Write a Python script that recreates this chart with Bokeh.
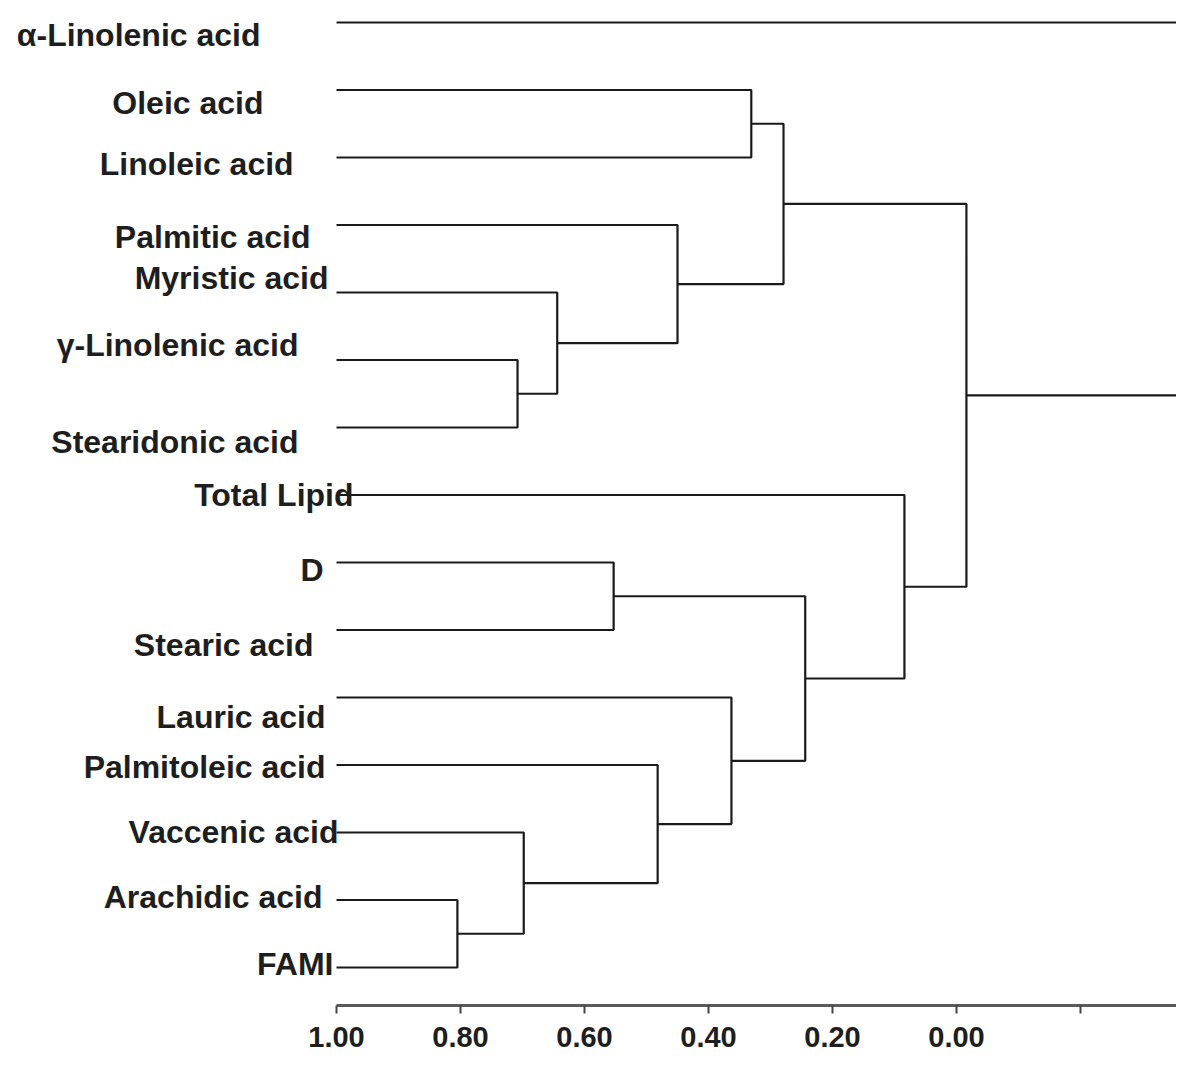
from bokeh.plotting import figure
from bokeh.models import Range1d, FixedTicker, ColumnDataSource, CustomJSTickFormatter
from bokeh.core.properties import value
from bokeh.embed import file_html
from bokeh.resources import INLINE

# ---------------- data ----------------
leaf_labels = [
    "α-Linolenic acid", "Oleic acid", "Linoleic  acid", "Palmitic acid",
    "Myristic acid", "γ-Linolenic acid", "Stearidonic acid", "Total Lipid",
    "D", "Stearic acid", "Lauric acid", "Palmitoleic acid", "Vaccenic acid",
    "Arachidic acid", "FAMI",
]
# linkage (scipy-style): cluster 15+k joins merge_a[k] and merge_b[k] at merge_h[k]
merge_a = [13, 5, 12, 4, 8, 11, 3, 10, 1, 23, 19, 7, 24, 0]
merge_b = [14, 6, 15, 16, 9, 17, 18, 20, 2, 21, 22, 25, 26, 27]
merge_h = [0.805, 0.708, 0.698, 0.644, 0.553, 0.482, 0.450, 0.363,
           0.331, 0.279, 0.244, 0.084, -0.016, -0.381]
tick_values = [1.0, 0.8, 0.6, 0.4, 0.2, 0.0, -0.2]
leaf_similarity = 1.0

# ---------------- layout / style ----------------
W, H = 1176, 1060
AXIS_PANEL = 55
FRAME_H = H - AXIS_PANEL
X_AT_ONE = 336          # canvas px where similarity 1.0 sits
PX_PER_UNIT = 620       # px per similarity unit
Y_TOP = 22              # canvas px of first leaf
Y_STEP = 67.5           # px between leaves

label_dx = [-76, -73, -34, -26, -8, -38, -38, 17, -13, -23, -11, -11, 2, -14, -3]
label_dy = [12, 12.5, 6, 11.5, -15, -15.5, 14, 0, 7, 14.5, 19, 1.5, -1, -3.5, -4]
FONT = "Liberation Sans"
LINE_COLOR = "#1a1a1a"
TEXT_COLOR = "#1e1e1e"

# ---------------- dendrogram geometry ----------------
n = len(leaf_labels)
node_x = [leaf_similarity] * n
node_y = list(range(n))
xs, ys = [], []
for a, b, h in zip(merge_a, merge_b, merge_h):
    xa, ya = node_x[a], node_y[a]
    xb, yb = node_x[b], node_y[b]
    xs.append([xa, h, h, xb])
    ys.append([ya, ya, yb, yb])
    node_x.append(h)
    node_y.append((ya + yb) / 2)

x_start = 1.0 + X_AT_ONE / PX_PER_UNIT
x_end = 1.0 - (W - X_AT_ONE) / PX_PER_UNIT
y_bottom = (FRAME_H - Y_TOP) / Y_STEP
y_top = -Y_TOP / Y_STEP

p = figure(
    width=W, height=H, output_backend="svg", toolbar_location=None,
    x_range=Range1d(x_start, x_end), y_range=Range1d(y_bottom, y_top),
    y_axis_location=None, min_border=0, min_border_bottom=AXIS_PANEL,
    min_border_left=0, min_border_right=0, min_border_top=0,
)
p.outline_line_color = None
p.grid.visible = False
p.background_fill_color = "white"
p.border_fill_color = "white"

p.multi_line(xs=xs, ys=ys, line_color=LINE_COLOR, line_width=2.2)

src = ColumnDataSource(dict(
    x=[leaf_similarity] * n,
    y=list(range(n)),
    text=leaf_labels,
    dx=label_dx,
    dy=label_dy,
))
p.text(x="x", y="y", text="text", source=src, x_offset="dx", y_offset="dy",
       text_align="right", text_baseline="middle",
       text_font=value(FONT), text_font_style="bold", text_font_size="32px",
       text_color=TEXT_COLOR)

ax = p.xaxis[0]
ax.ticker = FixedTicker(ticks=tick_values, minor_ticks=[])
ax.formatter = CustomJSTickFormatter(code="return tick < -0.01 ? '' : Math.abs(tick).toFixed(2);")
ax.bounds = (min(merge_h), leaf_similarity)
ax.axis_line_color = "#5a5a5a"
ax.axis_line_width = 3
ax.major_tick_line_color = "#444444"
ax.major_tick_line_width = 2
ax.major_tick_out = 8
ax.major_tick_in = 0
ax.minor_tick_line_color = None
ax.major_label_standoff = 13
ax.major_label_text_font = FONT
ax.major_label_text_font_style = "bold"
ax.major_label_text_font_size = "29px"
ax.major_label_text_color = TEXT_COLOR

open("out.html", "w").write(file_html(p, INLINE))
